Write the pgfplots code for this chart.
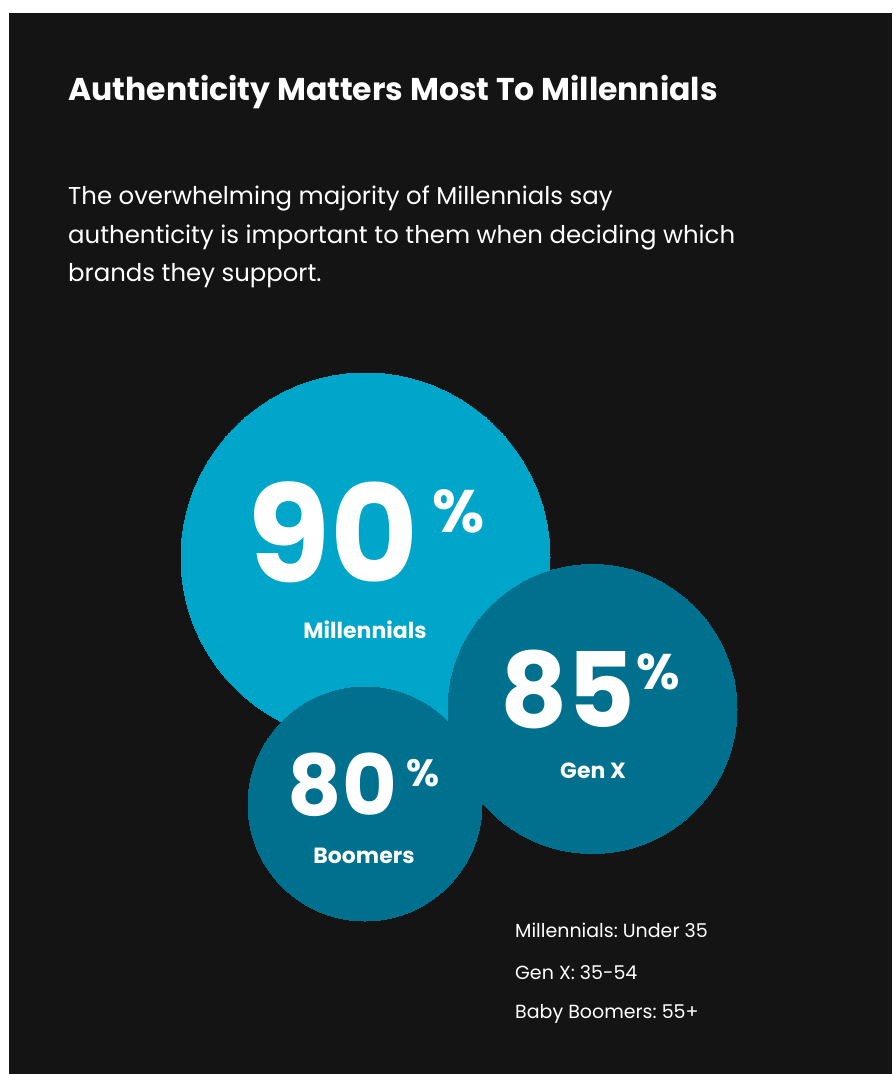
\documentclass[border=0pt]{standalone}
\usepackage{pgfplots}
\pgfplotsset{compat=1.18}
\usepackage{fontspec}
\setmainfont{Poppins}
\frenchspacing
\definecolor{bg}{HTML}{141414}
\definecolor{light}{HTML}{00A6C9}
\definecolor{dark}{HTML}{00708F}
\begin{document}
\begin{tikzpicture}
\begin{axis}[
  scale only axis, width=892pt, height=1074pt,
  xmin=0, xmax=892, ymin=0, ymax=1074, y dir=reverse,
  hide axis, clip=false, clip marker paths=true]
\fill[white] (axis cs:0,0) rectangle (axis cs:892,1074);
\fill[bg] (axis cs:9,13) rectangle (axis cs:892,1074);
% bubbles: value 90 (Millennials), 80 (Boomers), 85 (Gen X)
\addplot[only marks, mark=*, color=light, mark size=184.5pt, mark options={draw=light, fill=light, line width=0pt}] coordinates {(365.5,557.5)};
\addplot[only marks, mark=*, color=dark, mark size=117pt, mark options={draw=dark, fill=dark, line width=0pt}] coordinates {(365,804)};
\addplot[only marks, mark=*, color=dark, mark size=144.5pt, mark options={draw=dark, fill=dark, line width=0pt}] coordinates {(592.5,709)};
% title and subtitle
\node[anchor=base west, inner sep=0, text=white, font=\fontsize{31.5}{31.5}\selectfont\bfseries] at (axis cs:68,100) {Authenticity Matters Most To Millennials};
\node[anchor=base west, inner sep=0, text=white, font=\fontsize{24.4}{24.4}\selectfont] at (axis cs:68,204) {The overwhelming majority of Millennials say};
\node[anchor=base west, inner sep=0, text=white, font=\fontsize{24.4}{24.4}\selectfont] at (axis cs:68,243) {authenticity is important to them when deciding which};
\node[anchor=base west, inner sep=0, text=white, font=\fontsize{24.4}{24.4}\selectfont] at (axis cs:68,281) {brands they support.};
% numbers
\node[anchor=base, inner sep=0, text=white, font=\fontsize{135}{135}\selectfont\bfseries] at (axis cs:333,582) {90};
\node[anchor=north west, inner sep=0, text=white, font=\fontsize{60}{60}\selectfont\bfseries] at (axis cs:432,489) {\%};
\node[anchor=base, inner sep=0, text=white, font=\fontsize{22}{22}\selectfont\bfseries] at (axis cs:365,638) {Millennials};
\node[anchor=base, inner sep=0, text=white, font=\fontsize{104}{104}\selectfont\bfseries] at (axis cs:567.5,727) {85};
\node[anchor=north west, inner sep=0, text=white, font=\fontsize{50}{50}\selectfont\bfseries] at (axis cs:636,654) {\%};
\node[anchor=base, inner sep=0, text=white, font=\fontsize{22}{22}\selectfont\bfseries] at (axis cs:593,778) {Gen X};
\node[anchor=base, inner sep=0, text=white, font=\fontsize{84}{84}\selectfont\bfseries] at (axis cs:342.5,815) {80};
\node[anchor=north west, inner sep=0, text=white, font=\fontsize{38}{38}\selectfont\bfseries] at (axis cs:406,759) {\%};
\node[anchor=base, inner sep=0, text=white, font=\fontsize{22}{22}\selectfont\bfseries] at (axis cs:364,863) {Boomers};
% age key
\node[anchor=base west, inner sep=0, text=white, font=\fontsize{19}{19}\selectfont] at (axis cs:515,937) {Millennials: Under 35};
\node[anchor=base west, inner sep=0, text=white, font=\fontsize{19}{19}\selectfont] at (axis cs:515,979) {Gen X: 35-54};
\node[anchor=base west, inner sep=0, text=white, font=\fontsize{19}{19}\selectfont] at (axis cs:515,1018) {Baby Boomers: 55+};
\end{axis}
\end{tikzpicture}
\end{document}
